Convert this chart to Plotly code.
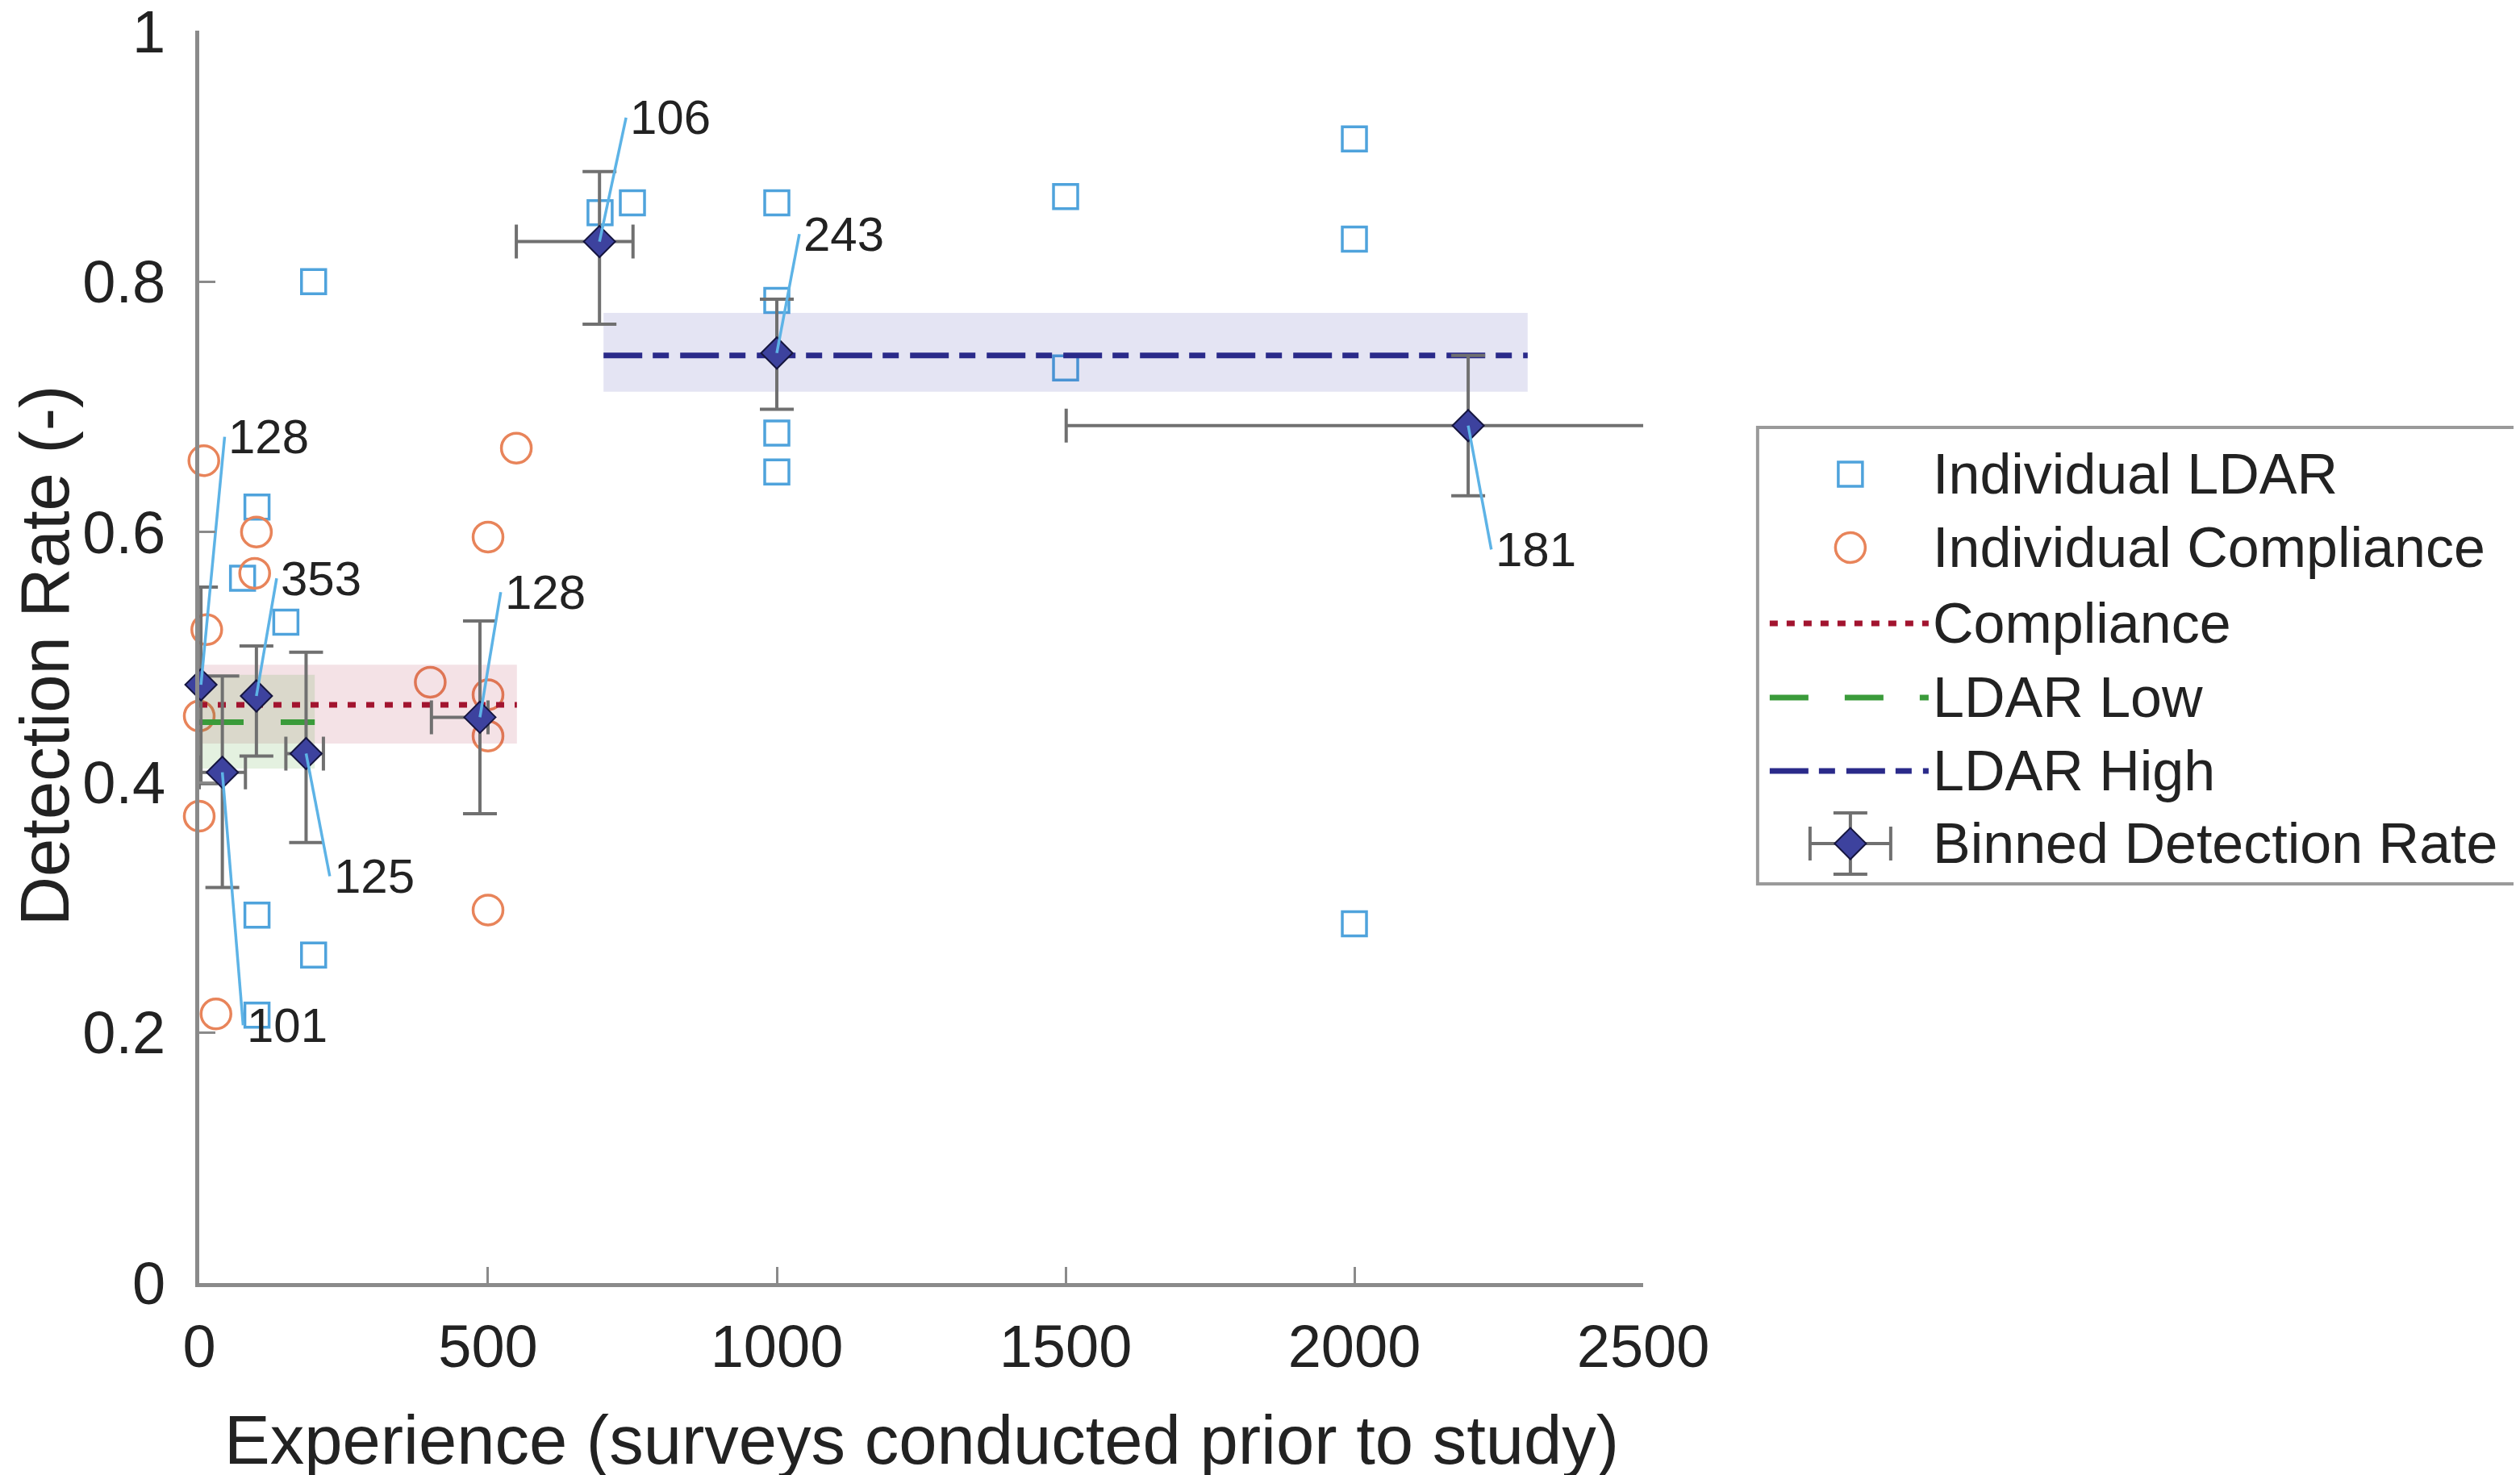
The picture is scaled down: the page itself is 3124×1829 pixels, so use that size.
import plotly.graph_objects as go

# Einzelwerte LDAR (Quadrate)
ldar_x = [75, 100, 150, 198, 100, 198, 100, 694, 750, 1000, 1000, 1000, 1000, 1500, 1500, 2000, 2000, 2000]
ldar_y = [0.563, 0.620, 0.528, 0.800, 0.294, 0.262, 0.214, 0.855, 0.863, 0.863, 0.785, 0.679, 0.648,
          0.868, 0.731, 0.914, 0.834, 0.287]

# Einzelwerte Compliance (Kreise)
comp_x = [8, 13, 0, 0, 29, 99, 96, 400, 500, 500, 500, 549, 500]
comp_y = [0.657, 0.522, 0.453, 0.373, 0.215, 0.600, 0.567, 0.480, 0.470, 0.437, 0.596, 0.667, 0.298]

# Mittelwerte mit Band: [x_start, x_end], mittel, unten, oben
compliance_x = [0, 550]
compliance_mean, compliance_lo, compliance_hi = 0.462, 0.431, 0.494
ldar_low_x = [0, 200]
ldar_low_mean, ldar_low_lo, ldar_low_hi = 0.448, 0.411, 0.486
ldar_high_x = [700, 2300]
ldar_high_mean, ldar_high_lo, ldar_high_hi = 0.741, 0.712, 0.775

# Gebinnte Detektionsrate
bin_x = [3, 40, 99, 185, 486, 693, 1000, 2197]
bin_y = [0.478, 0.408, 0.469, 0.423, 0.452, 0.832, 0.743, 0.685]
bin_y_hi = [0.556, 0.485, 0.509, 0.504, 0.529, 0.888, 0.786, 0.741]
bin_y_lo = [0.399, 0.316, 0.421, 0.352, 0.375, 0.766, 0.698, 0.629]
bin_x_lo = [0, 0, 99, 150, 402, 549, 1000, 1501]
bin_x_hi = [3, 80, 99, 215, 500, 751, 1000, 2800]

# Anzahl je Bin (Beschriftung) und Endpunkt der Hinweislinie
bin_n = ['128', '101', '353', '125', '128', '106', '243', '181']
lab_x = [44, 76, 134, 226, 522, 739, 1039, 2237]
lab_y = [0.676, 0.206, 0.563, 0.325, 0.552, 0.931, 0.838, 0.586]

x_ticks = [0, 500, 1000, 1500, 2000, 2500]
y_ticks = [0, 0.2, 0.4, 0.6, 0.8, 1]

x_title = 'Experience (surveys conducted prior to study)'
y_title = 'Detection Rate (-)'
legend_names = ['Individual LDAR', 'Individual Compliance', 'Compliance', 'LDAR Low', 'LDAR High',
                'Binned Detection Rate']

# Farben
c_ldar = '#4FA3DC'
c_comp = '#E8845A'
c_compl_line = '#A2142F'
c_low = '#3A9B3A'
c_high = '#2A2A8A'
c_diamond = '#3D429E'
c_err = '#707070'
c_lead = '#5DB3E6'
txt = '#222222'
FONT = 'Liberation Sans, Arial, sans-serif'

fig = go.Figure()

# Einzelpunkte
fig.add_trace(go.Scatter(x=ldar_x, y=ldar_y, mode='markers', cliponaxis=False,
                         marker=dict(symbol='square-open', size=30, color=c_ldar, line=dict(width=3.5, color=c_ldar))))
fig.add_trace(go.Scatter(x=comp_x, y=comp_y, mode='markers', cliponaxis=False,
                         marker=dict(symbol='circle-open', size=37, color=c_comp, line=dict(width=3.5, color=c_comp))))


# Bänder + Mittelwertlinien
def band(xr, lo, hi, fill):
    fig.add_trace(go.Scatter(x=[xr[0], xr[1], xr[1], xr[0], xr[0]], y=[lo, lo, hi, hi, lo],
                             mode='lines', fill='toself', fillcolor=fill, line=dict(width=0), hoverinfo='skip'))


band(compliance_x, compliance_lo, compliance_hi, 'rgba(162,20,47,0.12)')
band(ldar_low_x, ldar_low_lo, ldar_low_hi, 'rgba(90,165,60,0.16)')
band(ldar_high_x, ldar_high_lo, ldar_high_hi, 'rgba(45,45,160,0.13)')

fig.add_trace(go.Scatter(x=compliance_x, y=[compliance_mean] * 2, mode='lines',
                         line=dict(color=c_compl_line, width=7, dash='10px,13px')))
fig.add_trace(go.Scatter(x=ldar_low_x, y=[ldar_low_mean] * 2, mode='lines',
                         line=dict(color=c_low, width=7, dash='55px,46px')))
fig.add_trace(go.Scatter(x=ldar_high_x, y=[ldar_high_mean] * 2, mode='lines',
                         line=dict(color=c_high, width=7, dash='48px,13px,20px,14px')))

# Gebinnte Werte mit Fehlerbalken
fig.add_trace(go.Scatter(
    x=bin_x, y=bin_y, mode='markers', cliponaxis=False,
    marker=dict(symbol='diamond', size=30, color=c_diamond, line=dict(width=2, color='#15153F')),
    error_y=dict(type='data', symmetric=False,
                 array=[h - v for h, v in zip(bin_y_hi, bin_y)],
                 arrayminus=[v - l for l, v in zip(bin_y_lo, bin_y)],
                 color=c_err, thickness=4, width=21),
    error_x=dict(type='data', symmetric=False,
                 array=[h - v for h, v in zip(bin_x_hi, bin_x)],
                 arrayminus=[v - l for l, v in zip(bin_x_lo, bin_x)],
                 color=c_err, thickness=4, width=21),
))

# Hinweislinien mit Anzahl
for bx, by, lx, ly, n in zip(bin_x, bin_y, lab_x, lab_y, bin_n):
    fig.add_trace(go.Scatter(x=[bx, lx], y=[by, ly], mode='lines', line=dict(color=c_lead, width=3.5)))
    fig.add_annotation(x=lx, y=ly, text=n, showarrow=False, xanchor='left', yanchor='middle', xshift=3,
                       font=dict(size=60, color=txt, family=FONT))

# ---- eigene Legende auf zweitem (unsichtbarem) Achsenpaar, Einheiten = Pixel ----
row_y = [508, 417, 323, 231, 140, 50]
sym_x = 115
line_x = [15, 212]
fig.add_trace(go.Scatter(x=[sym_x], y=[row_y[0]], xaxis='x2', yaxis='y2', mode='markers',
                         marker=dict(symbol='square-open', size=30, color=c_ldar, line=dict(width=3.5, color=c_ldar))))
fig.add_trace(go.Scatter(x=[sym_x], y=[row_y[1]], xaxis='x2', yaxis='y2', mode='markers',
                         marker=dict(symbol='circle-open', size=37, color=c_comp, line=dict(width=3.5, color=c_comp))))
fig.add_trace(go.Scatter(x=line_x, y=[row_y[2]] * 2, xaxis='x2', yaxis='y2', mode='lines',
                         line=dict(color=c_compl_line, width=7, dash='10px,11px')))
fig.add_trace(go.Scatter(x=line_x, y=[row_y[3]] * 2, xaxis='x2', yaxis='y2', mode='lines',
                         line=dict(color=c_low, width=7, dash='48px,45px')))
fig.add_trace(go.Scatter(x=line_x, y=[row_y[4]] * 2, xaxis='x2', yaxis='y2', mode='lines',
                         line=dict(color=c_high, width=7, dash='48px,13px,20px,14px')))
fig.add_trace(go.Scatter(x=[sym_x], y=[row_y[5]], xaxis='x2', yaxis='y2', mode='markers',
                         marker=dict(symbol='diamond', size=30, color=c_diamond, line=dict(width=2, color='#15153F')),
                         error_x=dict(type='constant', value=50, color=c_err, thickness=4, width=21),
                         error_y=dict(type='constant', value=38, color=c_err, thickness=4, width=21)))
for ry, name in zip(row_y, legend_names):
    fig.add_annotation(x=215, y=ry, xref='x2', yref='y2', text=name, showarrow=False,
                       xanchor='left', yanchor='middle', font=dict(size=70, color=txt, family=FONT))

fig.add_shape(type='rect', xref='paper', yref='paper', x0=0.6949, x1=0.9987, y0=0.4051, y1=0.7146,
              line=dict(color='#9a9a9a', width=4), fillcolor='rgba(0,0,0,0)', layer='below')

# Achsentitel als Annotationen (Ränder sind 0, daher frei platziert)
fig.add_annotation(x=0.3633, y=0.0279, xref='paper', yref='paper', text=x_title, showarrow=False,
                   xanchor='center', yanchor='middle', font=dict(size=85, color=txt, family=FONT))
fig.add_annotation(x=0.0155, y=0.5599, xref='paper', yref='paper', text=y_title, showarrow=False,
                   textangle=-90, xanchor='center', yanchor='middle', borderpad=0,
                   font=dict(size=85, color=txt, family=FONT))

axis_common = dict(showgrid=False, zeroline=False, showline=True, linecolor='#8a8a8a', linewidth=5,
                   ticks='inside', ticklen=20, tickwidth=3, tickcolor='#8a8a8a', ticklabeloverflow='allow',
                   tickfont=dict(size=74, color=txt, family=FONT), automargin=False)

fig.update_layout(
    width=3124, height=1829,
    margin=dict(l=0, r=0, t=0, b=0),
    showlegend=False,
    paper_bgcolor='white', plot_bgcolor='white',
    font=dict(family=FONT, color=txt),
    xaxis=dict(domain=[0.0765, 0.6495], range=[0, 2500], tickvals=x_ticks, ticklabelstandoff=10,
               **axis_common),
    yaxis=dict(domain=[0.1345, 0.9835], range=[0, 1.0004], tickvals=y_ticks,
               ticktext=['0', '0.2', '0.4', '0.6', '0.8', '1'], ticklabelstandoff=22,
               **axis_common),
    xaxis2=dict(domain=[0.6949, 0.9987], range=[0, 949], visible=False, anchor='y2'),
    yaxis2=dict(domain=[0.4051, 0.7146], range=[0, 566], visible=False, anchor='x2'),
)

fig.write_html("out.html")
